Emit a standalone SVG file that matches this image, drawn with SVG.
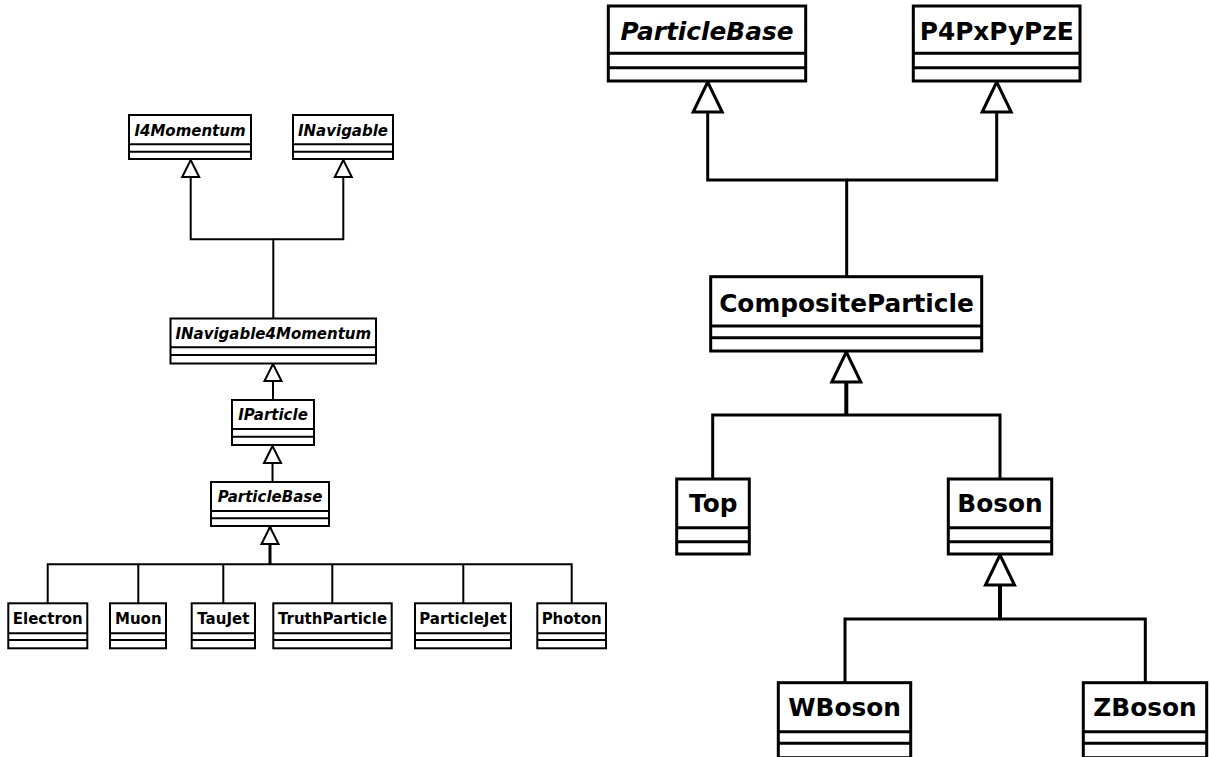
<svg xmlns="http://www.w3.org/2000/svg" width="1210" height="757" viewBox="0 0 1210 757">
<style>
.bs{fill:#fff;stroke:#000;stroke-width:2}
.bl{fill:#fff;stroke:#000;stroke-width:3}
.ls{fill:none;stroke:#000;stroke-width:2}
.ll{fill:none;stroke:#000;stroke-width:3}
.ts{font-family:"DejaVu Sans","Liberation Sans",sans-serif;font-weight:bold;font-size:15px;text-anchor:middle;fill:#000}
.tl{font-family:"DejaVu Sans","Liberation Sans",sans-serif;font-weight:bold;font-size:24.8px;text-anchor:middle;fill:#000}
.it{font-style:italic}
.c{fill:none;stroke:#000;stroke-linejoin:miter}
</style>
<defs>
<marker id="triS" markerUnits="userSpaceOnUse" viewBox="-3 -12 24 24" markerWidth="24" markerHeight="24" refX="17" refY="0" orient="auto">
<path d="M0,-8.5 L17,0 L0,8.5 Z" fill="#fff" stroke="#000" stroke-width="2"/>
</marker>
<marker id="triL" markerUnits="userSpaceOnUse" viewBox="-4 -19 38 38" markerWidth="38" markerHeight="38" refX="30" refY="0" orient="auto">
<path d="M0,-14.5 L30,0 L0,14.5 Z" fill="#fff" stroke="#000" stroke-width="3"/>
</marker>
</defs>
<g id="connectors">
<path class="c" stroke-width="2" d="M273.3,318 V239.3 H190.7 V160" marker-end="url(#triS)"/>
<path class="c" stroke-width="2" d="M273.3,239.3 H343.3 V160" marker-end="url(#triS)"/>
<path class="c" stroke-width="2" d="M273,400 V364" marker-end="url(#triS)"/>
<path class="c" stroke-width="2" d="M272.5,482 V446" marker-end="url(#triS)"/>
<path class="c" stroke-width="2" d="M47.7,603 V564.3 H571.7 V603"/>
<path class="c" stroke-width="2" d="M138.3,603 V564.3 M223.3,603 V564.3 M332.3,603 V564.3 M463.3,603 V564.3"/>
<path class="c" stroke-width="3" d="M270,564.3 V527" marker-end="url(#triS)"/>
<path class="c" stroke-width="3" d="M846.7,277 V180 H707.7 V82" marker-end="url(#triL)"/>
<path class="c" stroke-width="3" d="M846.7,180 H996.7 V82" marker-end="url(#triL)"/>
<path class="c" stroke-width="3" d="M712.7,479 V415 H1000 V479"/>
<path class="c" stroke-width="4" d="M846.3,415 V352" marker-end="url(#triL)"/>
<path class="c" stroke-width="3" d="M845,683 V619 H1145.3 V683"/>
<path class="c" stroke-width="4" d="M1000,619 V555" marker-end="url(#triL)"/>
</g>
<g id="I4Momentum"><rect class="bs" x="129" y="115" width="122" height="44"/><path class="ls" d="M129,144.3 H251 M129,151.7 H251"/><text class="ts it" x="190" y="135.5">I4Momentum</text></g>
<g id="INavigable"><rect class="bs" x="293" y="115" width="100" height="44"/><path class="ls" d="M293,144.3 H393 M293,151.7 H393"/><text class="ts it" x="343" y="135.5">INavigable</text></g>
<g id="INavigable4Momentum"><rect class="bs" x="170.5" y="318.5" width="205.5" height="45"/><path class="ls" d="M170.5,347.3 H376 M170.5,355 H376"/><text class="ts it" x="273.3" y="339">INavigable4Momentum</text></g>
<g id="IParticle"><rect class="bs" x="232" y="400" width="82" height="45"/><path class="ls" d="M232,429 H314 M232,436.7 H314"/><text class="ts it" x="273" y="420">IParticle</text></g>
<g id="ParticleBaseL"><rect class="bs" x="211" y="482" width="118" height="44"/><path class="ls" d="M211,511 H329 M211,518.3 H329"/><text class="ts it" x="270" y="501.5">ParticleBase</text></g>
<g id="Electron"><rect class="bs" x="8.3" y="603.3" width="79" height="45"/><path class="ls" d="M8.3,633.3 H87.3 M8.3,640 H87.3"/><text class="ts" x="47.8" y="624">Electron</text></g>
<g id="Muon"><rect class="bs" x="110" y="603.3" width="56" height="45"/><path class="ls" d="M110,633.3 H166 M110,640 H166"/><text class="ts" x="138.3" y="624">Muon</text></g>
<g id="TauJet"><rect class="bs" x="191.7" y="603.3" width="63.3" height="45"/><path class="ls" d="M191.7,633.3 H255 M191.7,640 H255"/><text class="ts" x="223.3" y="624">TauJet</text></g>
<g id="TruthParticle"><rect class="bs" x="273.3" y="603.3" width="118.4" height="45"/><path class="ls" d="M273.3,633.3 H391.7 M273.3,640 H391.7"/><text class="ts" x="332.5" y="624">TruthParticle</text></g>
<g id="ParticleJet"><rect class="bs" x="415" y="603.3" width="96" height="45"/><path class="ls" d="M415,633.3 H511 M415,640 H511"/><text class="ts" x="463" y="624">ParticleJet</text></g>
<g id="Photon"><rect class="bs" x="537.3" y="603.3" width="68.7" height="45"/><path class="ls" d="M537.3,633.3 H606 M537.3,640 H606"/><text class="ts" x="571.7" y="624">Photon</text></g>
<g id="ParticleBaseR"><rect class="bl" x="608.3" y="6" width="197.4" height="75"/><path class="ll" d="M608.3,53.3 H805.7 M608.3,67.7 H805.7"/><text class="tl it" x="707" y="40">ParticleBase</text></g>
<g id="P4PxPyPzE"><rect class="bl" x="913.3" y="6" width="166.7" height="75"/><path class="ll" d="M913.3,53.3 H1080 M913.3,67.7 H1080"/><text class="tl" x="996.7" y="40">P4PxPyPzE</text></g>
<g id="CompositeParticle"><rect class="bl" x="710.7" y="276.7" width="271" height="74.3"/><path class="ll" d="M710.7,326 H981.7 M710.7,337.7 H981.7"/><text class="tl" x="846.5" y="311.5">CompositeParticle</text></g>
<g id="Top"><rect class="bl" x="676.7" y="479" width="72.6" height="75"/><path class="ll" d="M676.7,527.7 H749.3 M676.7,541.7 H749.3"/><text class="tl" x="713.3" y="511.5">Top</text></g>
<g id="Boson"><rect class="bl" x="948.3" y="479" width="103.4" height="75"/><path class="ll" d="M948.3,527.7 H1051.7 M948.3,541.7 H1051.7"/><text class="tl" x="1000" y="511.5">Boson</text></g>
<g id="WBoson"><rect class="bl" x="778.3" y="682.7" width="132.4" height="75"/><path class="ll" d="M778.3,731.7 H910.7 M778.3,743.3 H910.7"/><text class="tl" x="844.5" y="716">WBoson</text></g>
<g id="ZBoson"><rect class="bl" x="1083.3" y="682.7" width="123.4" height="75"/><path class="ll" d="M1083.3,731.7 H1206.7 M1083.3,743.3 H1206.7"/><text class="tl" x="1145" y="716">ZBoson</text></g>
</svg>
